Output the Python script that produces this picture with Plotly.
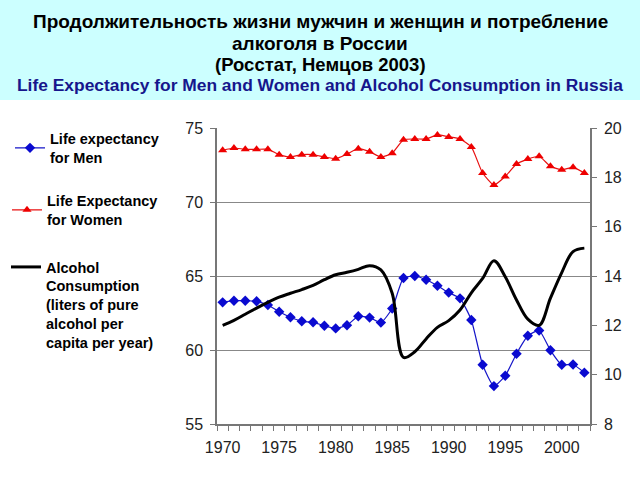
import plotly.graph_objects as go

years = list(range(1970, 2003))

women_le = [73.49, 73.65, 73.56, 73.56, 73.56, 73.2, 73.04, 73.2, 73.2, 73.04,
            72.93, 73.24, 73.6, 73.4, 73.04, 73.3,
            74.2, 74.26, 74.26, 74.53, 74.4, 74.26, 73.72, 71.96, 71.15, 71.73,
            72.57, 72.9, 73.09, 72.41, 72.18, 72.34, 71.96]

men_le = [63.22, 63.33, 63.33, 63.29, 63.04, 62.58, 62.21, 61.94, 61.87, 61.64,
          61.46, 61.67, 62.28, 62.19, 61.85, 62.8,
          64.86, 65.0, 64.75, 64.34, 63.88, 63.49, 62.03, 59.0, 57.56, 58.26,
          59.75, 60.96, 61.32, 59.98, 59.0, 59.02, 58.47]

alcohol = [12.0, 12.2, 12.45, 12.7, 12.93, 13.14, 13.3, 13.45, 13.62, 13.85,
           14.05, 14.15, 14.27, 14.42, 14.25, 13.3,
           10.7, 10.93, 11.45, 11.92, 12.19, 12.62, 13.32, 13.9, 14.62, 13.97,
           13.03, 12.25, 12.0, 13.1, 14.14, 14.99, 15.13]

x_label_years = [1970, 1975, 1980, 1985, 1990, 1995, 2000]

title_lines = ["Продолжительность жизни мужчин и женщин и потребление",
               "алкоголя в России",
               "(Росстат, Немцов 2003)",
               "Life Expectancy for Men and Women and Alcohol Consumption in Russia"]

name_men = "Life expectancy<br>for Men"
name_women = "Life Expectancy<br>for Women"
name_alc = "Alcohol<br>Consumption<br>(liters of pure<br>alcohol per<br>capita per year)"

FONT = "Liberation Sans, Arial, sans-serif"

fig = go.Figure()

fig.add_trace(go.Scatter(
    x=years, y=men_le, name=name_men, mode="lines+markers",
    line=dict(color="#1515c8", width=1.2, shape="spline", smoothing=0.5),
    marker=dict(symbol="diamond", size=8, color="#0a0ad0"),
    legend="legend",
))
fig.add_trace(go.Scatter(
    x=years, y=women_le, name=name_women, mode="lines+markers",
    line=dict(color="#e81010", width=1.2, shape="spline", smoothing=0.5),
    marker=dict(symbol="triangle-up", size=8, color="#ee0000"),
    legend="legend2",
))
fig.add_trace(go.Scatter(
    x=years, y=alcohol, name=name_alc, mode="lines", yaxis="y2",
    line=dict(color="black", width=3, shape="spline", smoothing=1),
    legend="legend3",
))

W, H = 640, 480
ml, mr, mt, mb = 217, 50, 128, 56
pw, ph = W - ml - mr, H - mt - mb


def px_x(x):
    return (x - ml) / pw


def px_y(y):
    return (H - mb - y) / ph


# cyan header band
fig.add_shape(type="rect", xref="paper", yref="paper",
              x0=px_x(0), x1=px_x(W), y0=px_y(100), y1=px_y(0),
              fillcolor="#ccffff", line=dict(width=0), layer="below")

# title lines
title_sizes = [19, 19, 18.5, 17.4]
title_centers = [21, 43, 64, 85]
title_colors = ["black", "black", "black", "#16168c"]
for txt, sz, cy, col in zip(title_lines, title_sizes, title_centers, title_colors):
    fig.add_annotation(text="<b>" + txt + "</b>", xref="paper", yref="paper",
                       x=px_x(320), y=px_y(cy), xanchor="center", yanchor="middle",
                       showarrow=False,
                       font=dict(family=FONT, size=sz, color=col))

leg_common = dict(bgcolor="rgba(0,0,0,0)", borderwidth=0,
                  font=dict(family=FONT, size=14.5, color="black", weight="bold"),
                  xref="container", yref="container", xanchor="left")

fig.update_layout(
    width=W, height=H, autosize=False,
    margin=dict(l=ml, r=mr, t=mt, b=mb, autoexpand=False),
    paper_bgcolor="white", plot_bgcolor="white",
    font=dict(family=FONT, size=16, color="#222"),
    legend=dict(**leg_common, x=10 / W, y=1 - 148 / H, yanchor="middle", valign="middle"),
    legend2=dict(**leg_common, x=7 / W, y=1 - 210 / H, yanchor="middle", valign="middle"),
    legend3=dict(**leg_common, x=6 / W, y=1 - 251 / H, yanchor="top", valign="top"),
    showlegend=True,
    xaxis=dict(
        range=[1969.5, 2002.5], tickvals=x_label_years,
        ticktext=[str(v) for v in x_label_years],
        ticks="", showgrid=False, zeroline=False, automargin=False,
        showline=True, linecolor="#777", linewidth=1.5,
        ticklabelstandoff=8,
        minor=dict(ticks="outside", dtick=1, tick0=1969.5, ticklen=5,
                   tickcolor="#777", showgrid=False),
        tickfont=dict(size=16, color="#222"),
    ),
    yaxis=dict(
        range=[55, 75], dtick=5, tick0=55, automargin=False,
        showgrid=True, gridcolor="#888", gridwidth=1, zeroline=False,
        showline=True, linecolor="#777", linewidth=1.5,
        ticks="outside", ticklen=5, tickcolor="#777",
        ticklabelstandoff=4,
        tickfont=dict(size=16, color="#222"),
    ),
    yaxis2=dict(
        range=[8, 20], dtick=2, tick0=8, overlaying="y", side="right", anchor="x",
        showgrid=False, zeroline=False, automargin=False,
        showline=True, linecolor="#777", linewidth=1.5,
        ticks="outside", ticklen=5, tickcolor="#777",
        ticklabelstandoff=4,
        tickfont=dict(size=16, color="#222"),
    ),
)

fig.write_html("out.html", config={"displayModeBar": False},
               post_script="document.body.style.margin='0';")
